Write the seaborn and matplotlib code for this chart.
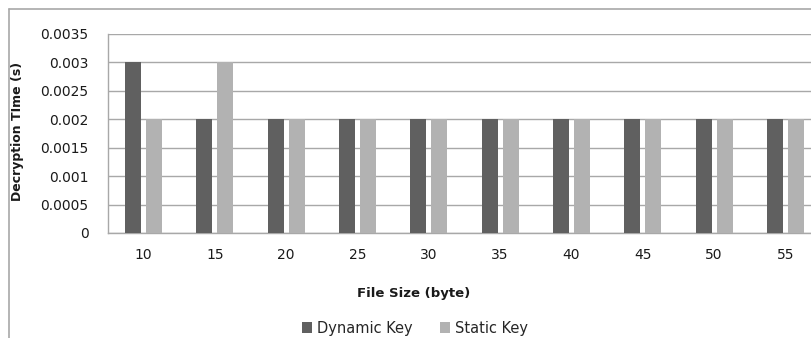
import matplotlib
matplotlib.use("Agg")
import matplotlib.pyplot as plt
from matplotlib.lines import Line2D
from matplotlib.patches import Patch
import seaborn as sns
import pandas as pd

file_sizes = ["10", "15", "20", "25", "30", "35", "40", "45", "50", "55"]
dynamic_key = [0.003, 0.002, 0.002, 0.002, 0.002, 0.002, 0.002, 0.002, 0.002, 0.002]
static_key = [0.002, 0.003, 0.002, 0.002, 0.002, 0.002, 0.002, 0.002, 0.002, 0.002]
series_names = ["Dynamic Key", "Static Key"]
y_ticks = [0, 0.0005, 0.001, 0.0015, 0.002, 0.0025, 0.003, 0.0035]
y_tick_labels = ["0", "0.0005", "0.001", "0.0015", "0.002", "0.0025", "0.003", "0.0035"]

df = pd.DataFrame({
    "size": file_sizes * 2,
    "time": dynamic_key + static_key,
    "key": [series_names[0]] * len(file_sizes) + [series_names[1]] * len(file_sizes),
})

sns.set_style("white")
plt.rcParams["font.family"] = ["DejaVu Sans"]

grid_col = "#a8a8a8"
colors = ["#606060", "#b2b2b2"]

fig = plt.figure(figsize=(8.11, 3.38), dpi=100)
fig.patch.set_facecolor("white")
ax = fig.add_axes([108 / 811, 1 - 233 / 338, (821 - 108) / 811, (233 - 34) / 338])

sns.barplot(data=df, x="size", y="time", hue="key", palette=colors,
            width=0.59, gap=0.24, ax=ax, legend=False, zorder=3,
            saturation=1, linewidth=0)

ax.set_ylim(0, 0.0035)
ax.set_xlim(-0.5, len(file_sizes) - 0.5)
ax.set_yticks(y_ticks)
ax.set_yticklabels(y_tick_labels)
ax.yaxis.grid(True, color=grid_col, linewidth=1.0, zorder=0)
ax.set_axisbelow(True)
for s in ["top", "right"]:
    ax.spines[s].set_visible(False)
for s in ["left", "bottom"]:
    ax.spines[s].set_color(grid_col)
    ax.spines[s].set_linewidth(1.0)
ax.tick_params(axis="both", length=0, labelsize=10, colors="#1a1a1a")
ax.tick_params(axis="x", pad=11)
ax.tick_params(axis="y", pad=14)

ax.set_xlabel("")
ax.set_ylabel("")
fig.text(414 / 811, 1 - 293 / 338, "File Size (byte)", ha="center", va="center",
         fontsize=9.5, fontweight="bold", color="#1a1a1a")
fig.text(18 / 811, 1 - 131 / 338, "Decryption TIme (s)", ha="center", va="center",
         rotation=90, fontsize=9, fontweight="bold", color="#1a1a1a")

handles = [Patch(facecolor=c, edgecolor="none") for c in colors]
fig.legend(handles, series_names, loc="center", bbox_to_anchor=(415 / 811, 1 - 328 / 338),
           ncol=2, frameon=False, fontsize=10.5, handlelength=0.7, handleheight=0.7,
           handletextpad=0.3, columnspacing=1.9, borderpad=0)

# outer chart frame (left and top edges)
fig.add_artist(Line2D([9 / 811, 9 / 811], [0, 1 - 9 / 338], transform=fig.transFigure,
                      color=grid_col, linewidth=1.2))
fig.add_artist(Line2D([9 / 811, 1], [1 - 9 / 338, 1 - 9 / 338], transform=fig.transFigure,
                      color=grid_col, linewidth=1.2))

fig.savefig("out.png", dpi=100, facecolor="white")
